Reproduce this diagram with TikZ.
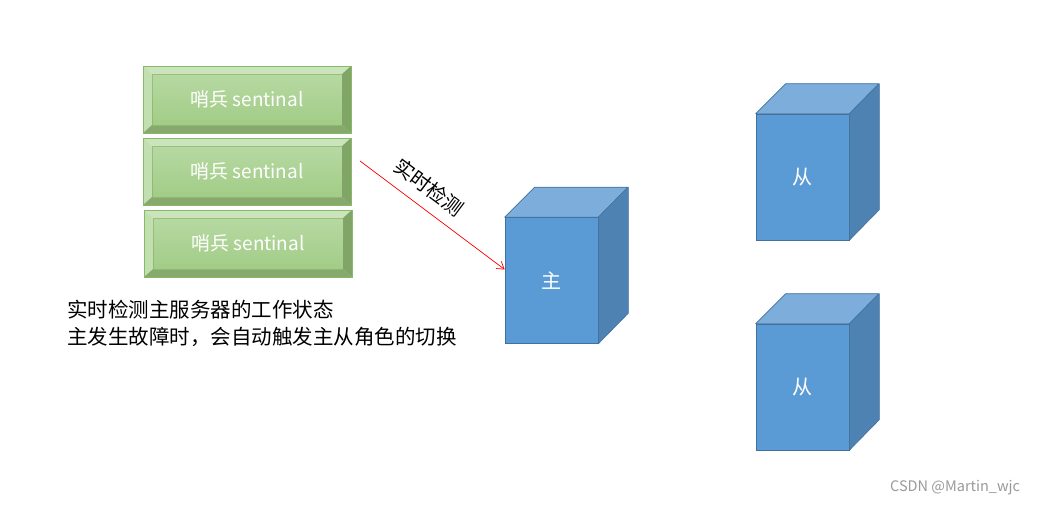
\documentclass[tikz,border=0pt]{standalone}
\usepackage{fontspec}
\setmainfont{Noto Sans CJK SC}
\usetikzlibrary{arrows.meta,calc}
\definecolor{gborder}{HTML}{86BA64}
\definecolor{gtop}{HTML}{CBE4BB}
\definecolor{gleft}{HTML}{C2E0AF}
\definecolor{gright}{HTML}{80A567}
\definecolor{gbottom}{HTML}{87A96D}
\definecolor{gfaceA}{HTML}{B6D9A2}
\definecolor{gfaceB}{HTML}{A2CC87}
\definecolor{cfront}{HTML}{5B9BD5}
\definecolor{ctop}{HTML}{7DADDA}
\definecolor{cright}{HTML}{4D82B3}
\definecolor{cedge}{HTML}{41719C}
\definecolor{wm}{HTML}{9A9A9A}
\tikzset{
  sentbox/.style={minimum width=208pt, minimum height=67pt, inner sep=0pt,
    draw=gborder, line width=0.8pt, text=white, font=\fontsize{19}{21}\selectfont,
    path picture={
      \fill[gtop] (path picture bounding box.north west) -- (path picture bounding box.north east)
        -- ([shift={(-9pt,-8pt)}]path picture bounding box.north east)
        -- ([shift={(9pt,-8pt)}]path picture bounding box.north west) -- cycle;
      \fill[gleft] (path picture bounding box.north west) -- (path picture bounding box.south west)
        -- ([shift={(9pt,8pt)}]path picture bounding box.south west)
        -- ([shift={(9pt,-8pt)}]path picture bounding box.north west) -- cycle;
      \fill[gright] (path picture bounding box.north east) -- (path picture bounding box.south east)
        -- ([shift={(-9pt,8pt)}]path picture bounding box.south east)
        -- ([shift={(-9pt,-8pt)}]path picture bounding box.north east) -- cycle;
      \fill[gbottom] (path picture bounding box.south west) -- (path picture bounding box.south east)
        -- ([shift={(-9pt,8pt)}]path picture bounding box.south east)
        -- ([shift={(9pt,8pt)}]path picture bounding box.south west) -- cycle;
      \shade[top color=gfaceA, bottom color=gfaceB]
        ([shift={(9pt,-8pt)}]path picture bounding box.north west)
        rectangle ([shift={(-9pt,8pt)}]path picture bounding box.south east);
      \draw[gborder!90!black, line width=0.4pt, opacity=0.5]
        ([shift={(9pt,-8pt)}]path picture bounding box.north west)
        rectangle ([shift={(-9pt,8pt)}]path picture bounding box.south east);
    }},
  cubefront/.style={minimum width=93pt, minimum height=126pt, inner sep=0pt,
    fill=cfront, draw=cedge, line width=0.6pt, text=white, font=\fontsize{20}{22}\selectfont},
  cubetop/.style={fill=ctop, draw=cedge, line width=0.6pt, line join=round},
  cuberight/.style={fill=cright, draw=cedge, line width=0.6pt, line join=round},
  bodytext/.style={anchor=west, inner sep=0pt, font=\fontsize{20.5}{24}\selectfont, text=black},
  detect/.style={red, line width=0.7pt, -{Straight Barb[length=7pt,width=9pt]}},
}
\begin{document}
\begin{tikzpicture}[x=1pt,y=-1pt]
\useasboundingbox (0,0) rectangle (1038,506);
\fill[white] (0,0) rectangle (1038,506);

% sentinels
\node[sentbox] (s1) at (247,99.5) {哨兵 sentinal};
\node[sentbox] (s2) at (247,171.5) {哨兵 sentinal};
\node[sentbox] (s3) at (248,243.5) {哨兵 sentinal};

% cubes
\newcommand{\cubesides}[1]{%
  \draw[cubetop] (#1.north west) -- ++(30pt,30pt) -- ++(93pt,0pt) -- (#1.north east) -- cycle;
  \draw[cuberight] (#1.north east) -- ++(30pt,30pt) -- ++(0pt,-126pt) -- (#1.south east) -- cycle;}
\node[cubefront] (m) at (551.5,280.5) {主};
\cubesides{m}
\node[cubefront] (c1) at (802.5,177) {从};
\cubesides{c1}
\node[cubefront] (c2) at (802.5,387) {从};
\cubesides{c2}

% detection arrow
\coordinate (a0) at (360,161);
\draw[detect] (a0) -- ([yshift=11pt]m.west);
\node[rotate=-36.7, font=\fontsize{20}{22}\selectfont, inner sep=0pt] (lab) at (429,187) {实时检测};

% description
\node[bodytext] (t1) at (67,310) {实时检测主服务器的工作状态};
\node[bodytext] (t2) at (67,337) {主发生故障时，会自动触发主从角色的切换};

% watermark
\node[text=wm, font=\fontsize{14.5}{16}\selectfont, inner sep=0pt] (w) at (955,488) {CSDN @Martin\_wjc};
\end{tikzpicture}
\end{document}
